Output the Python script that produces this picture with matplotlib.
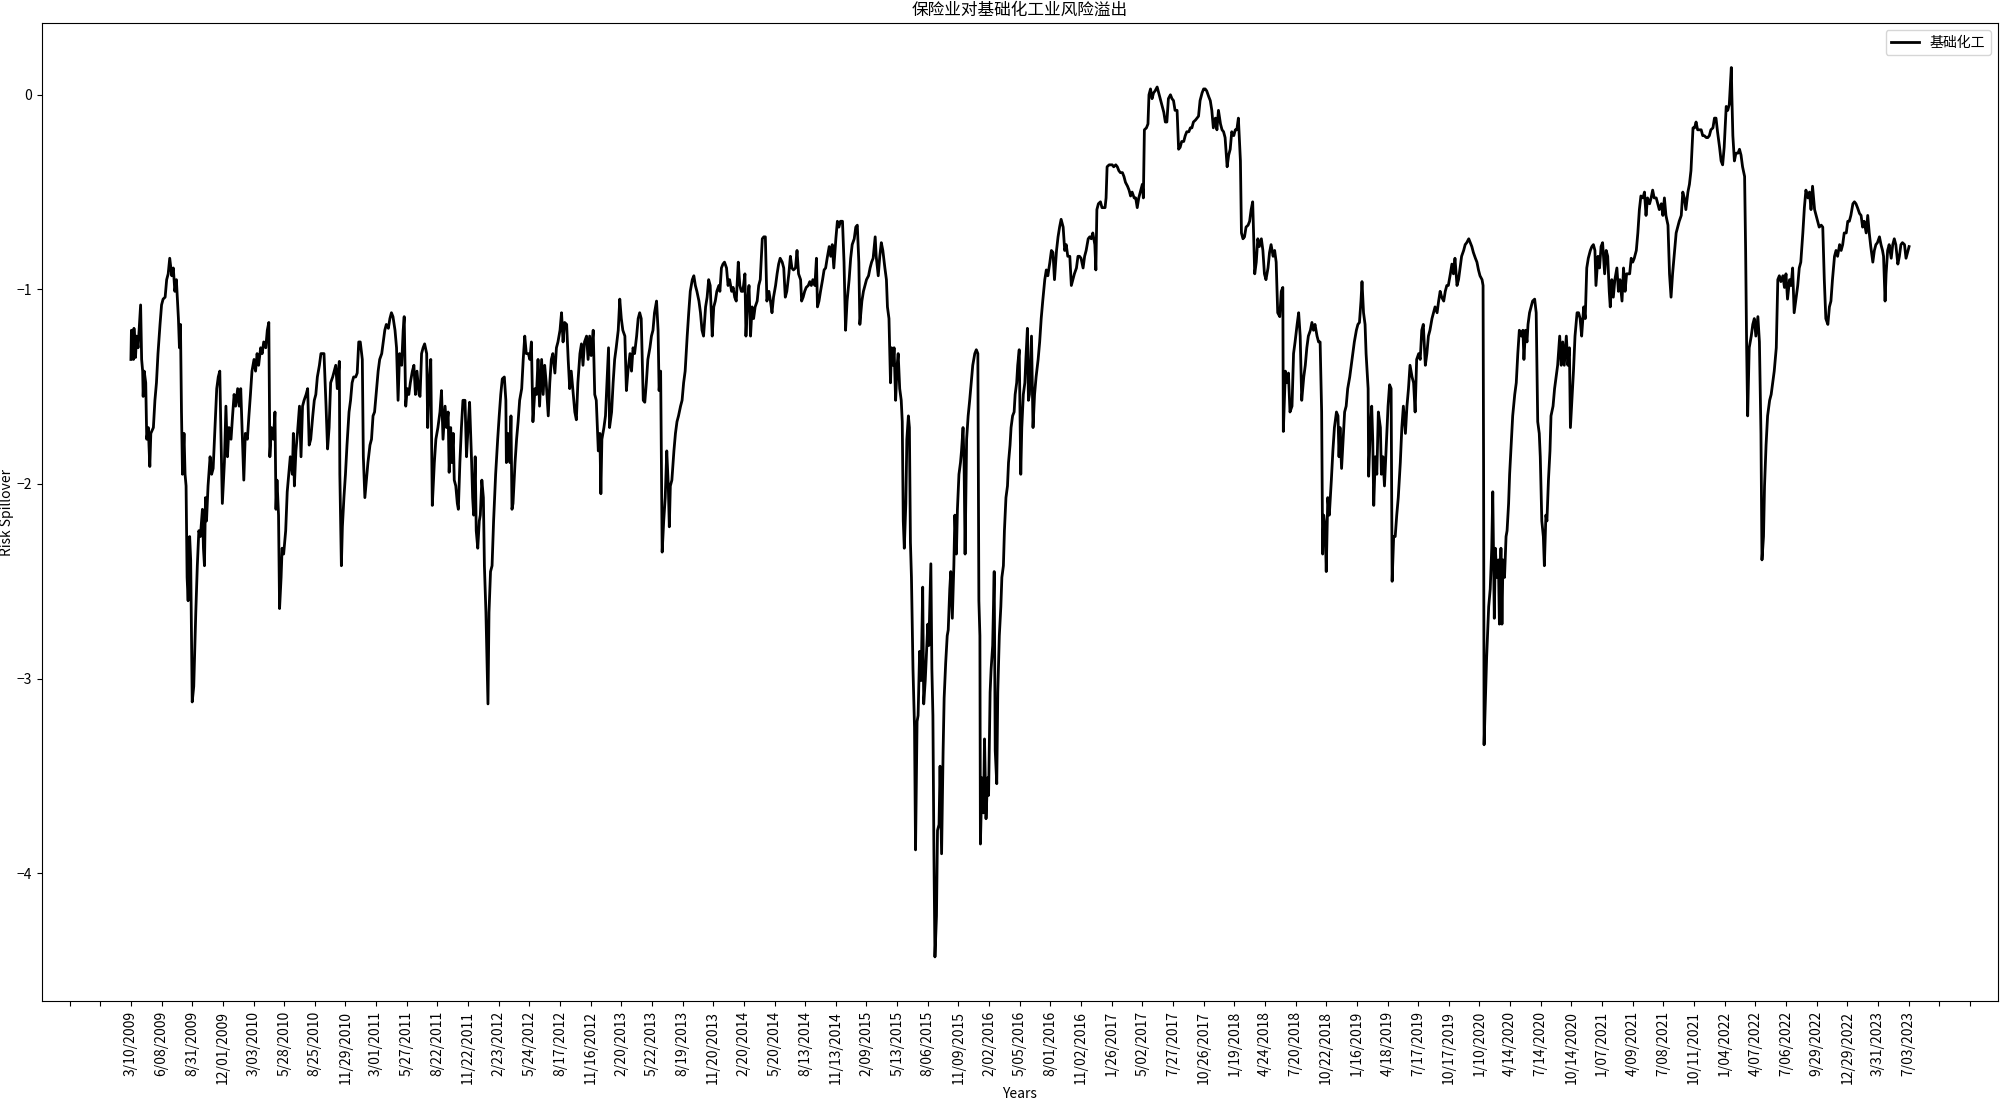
import matplotlib
matplotlib.use('Agg')
import matplotlib.pyplot as plt
from matplotlib.ticker import MultipleLocator, FuncFormatter

# %% Data: risk spillover of insurance on basic chemicals
# (trading-day index, spillover value)

seg_2009_2011 = [
    (0, -1.36), (1, -1.21), (5, -1.36), (6, -1.20), (9, -1.35), (11, -1.24), (14, -1.30), (16, -1.21),
    (19, -1.08), (21, -1.36), (23, -1.42), (24, -1.55), (26, -1.42), (29, -1.48), (31, -1.77), (34, -1.71),
    (37, -1.91), (39, -1.74), (44, -1.71), (47, -1.57), (50, -1.48), (53, -1.33), (57, -1.18), (60, -1.08),
    (63, -1.05), (67, -1.04), (70, -0.95), (73, -0.92), (76, -0.84), (80, -0.93), (83, -0.89), (86, -1.01),
    (89, -0.95), (93, -1.15), (95, -1.30), (97, -1.18), (99, -1.63), (101, -1.95), (104, -1.74), (106, -1.95),
    (108, -2.01), (110, -2.48), (112, -2.60), (115, -2.27), (117, -2.39), (120, -3.12), (123, -3.04), (127, -2.66),
    (130, -2.42), (133, -2.24), (136, -2.27), (140, -2.13), (142, -2.33), (144, -2.42), (146, -2.07), (148, -2.19),
    (151, -2.01), (155, -1.86), (158, -1.95), (161, -1.92), (164, -1.74), (168, -1.51), (171, -1.45), (174, -1.42),
    (176, -1.71), (179, -2.10), (183, -1.89), (186, -1.60), (189, -1.86), (192, -1.71), (196, -1.77), (199, -1.65),
    (202, -1.54), (205, -1.60), (209, -1.51), (212, -1.60), (215, -1.51), (219, -1.83), (221, -1.98), (224, -1.74),
    (228, -1.77), (231, -1.65), (234, -1.54), (237, -1.42), (241, -1.36), (244, -1.42), (247, -1.33), (250, -1.39),
    (254, -1.30), (257, -1.33), (260, -1.27), (264, -1.30), (267, -1.21), (270, -1.17), (272, -1.86), (275, -1.71),
    (279, -1.77), (282, -1.63), (284, -2.13), (286, -1.98), (289, -2.16), (291, -2.64), (294, -2.48), (296, -2.33),
    (299, -2.36), (303, -2.24), (306, -2.04), (309, -1.95), (312, -1.86), (316, -1.95), (318, -1.74), (320, -2.01),
    (323, -1.83), (326, -1.74), (330, -1.60), (333, -1.86), (336, -1.60), (339, -1.57), (343, -1.54), (346, -1.51),
    (349, -1.80), (352, -1.77), (356, -1.65), (359, -1.57), (362, -1.54), (365, -1.45), (369, -1.39), (372, -1.33),
    (375, -1.33), (378, -1.33), (382, -1.60), (385, -1.82), (388, -1.71), (391, -1.48), (395, -1.45), (398, -1.42),
    (401, -1.39), (404, -1.51), (408, -1.37), (409, -1.95), (412, -2.42), (414, -2.22), (417, -2.07), (420, -1.95),
    (423, -1.80), (427, -1.63), (430, -1.57), (433, -1.48), (436, -1.45), (440, -1.45), (443, -1.43), (446, -1.27),
    (449, -1.27), (453, -1.36), (455, -1.86), (458, -2.07), (461, -1.98), (464, -1.89), (468, -1.80), (471, -1.77),
    (474, -1.65), (477, -1.63), (481, -1.51), (484, -1.42), (487, -1.36), (491, -1.33), (494, -1.27), (497, -1.21),
    (500, -1.18), (504, -1.20), (507, -1.15), (510, -1.12), (513, -1.14), (517, -1.21), (520, -1.30), (523, -1.57),
    (526, -1.33), (530, -1.39), (533, -1.21), (535, -1.14), (538, -1.60), (541, -1.51), (544, -1.54), (547, -1.48),
    (551, -1.42), (554, -1.39), (557, -1.54), (560, -1.42), (564, -1.54),
]

seg_2011_2013 = [
    (566, -1.55), (569, -1.33), (572, -1.30), (575, -1.28), (579, -1.33), (581, -1.71), (584, -1.48), (587, -1.36),
    (590, -2.11), (594, -1.89), (597, -1.77), (601, -1.71), (605, -1.63), (608, -1.52), (611, -1.77), (615, -1.60),
    (618, -1.71), (621, -1.63), (623, -1.94), (626, -1.71), (628, -1.89), (631, -1.74), (633, -1.98), (636, -2.01),
    (639, -2.10), (641, -2.13), (644, -1.89), (647, -1.71), (650, -1.57), (654, -1.57), (657, -1.86), (660, -1.71),
    (663, -1.58), (667, -1.89), (669, -2.07), (671, -2.16), (674, -1.86), (676, -2.24), (679, -2.33), (682, -2.19),
    (684, -2.16), (687, -1.98), (690, -2.07), (692, -2.42), (695, -2.66), (699, -3.13), (701, -2.66), (704, -2.45),
    (707, -2.42), (710, -2.19), (714, -1.95), (718, -1.77), (721, -1.65), (724, -1.54), (727, -1.46), (731, -1.45),
    (734, -1.57), (735, -1.89), (738, -1.74), (742, -1.89), (744, -1.65), (746, -2.13), (748, -2.10), (752, -1.89),
    (755, -1.77), (758, -1.68), (761, -1.57), (765, -1.51), (768, -1.36), (771, -1.24), (774, -1.33), (778, -1.33),
    (781, -1.36), (784, -1.27), (787, -1.68), (791, -1.51), (794, -1.54), (797, -1.36), (800, -1.60), (804, -1.36),
    (807, -1.54), (810, -1.39), (813, -1.48), (817, -1.65), (820, -1.48), (823, -1.36), (826, -1.33), (830, -1.43),
    (833, -1.30), (836, -1.27), (840, -1.21), (843, -1.12), (846, -1.27), (849, -1.17), (853, -1.18), (856, -1.36),
    (859, -1.51), (862, -1.42), (866, -1.54), (869, -1.63), (872, -1.67), (875, -1.48), (879, -1.33), (882, -1.28),
    (885, -1.39), (888, -1.27), (892, -1.24), (895, -1.36), (898, -1.24), (901, -1.34), (905, -1.21), (908, -1.54),
    (911, -1.57), (915, -1.83), (918, -1.74), (920, -2.05), (922, -1.77), (926, -1.71), (929, -1.65), (932, -1.48),
    (935, -1.30), (937, -1.71), (941, -1.63), (944, -1.48), (947, -1.36), (950, -1.30), (954, -1.21), (957, -1.05),
    (960, -1.15), (963, -1.21), (967, -1.24), (970, -1.52), (973, -1.42), (977, -1.33), (980, -1.42), (983, -1.30),
    (986, -1.33), (990, -1.24), (993, -1.15), (996, -1.12), (999, -1.15), (1003, -1.57), (1006, -1.58), (1009, -1.48),
    (1012, -1.36), (1016, -1.30), (1019, -1.24), (1022, -1.21), (1025, -1.12), (1029, -1.06), (1032, -1.21),
    (1034, -1.52), (1037, -1.42), (1040, -2.35), (1043, -2.19), (1046, -2.07), (1049, -1.83), (1052, -2.01),
    (1054, -2.22), (1056, -2.01), (1059, -1.98), (1063, -1.83), (1066, -1.74), (1069, -1.68), (1072, -1.65),
    (1076, -1.60), (1079, -1.57), (1082, -1.48), (1085, -1.42), (1089, -1.24), (1092, -1.12), (1095, -1.01),
    (1099, -0.95), (1102, -0.93), (1105, -0.98), (1108, -1.01), (1112, -1.06), (1115, -1.12), (1118, -1.21),
    (1121, -1.24), (1125, -1.09), (1128, -1.04), (1131, -0.95), (1134, -0.98), (1138, -1.24), (1141, -1.09),
    (1144, -1.06), (1147, -1.01), (1151, -0.98),
]

seg_2013_2016 = [
    (1153, -1.01), (1156, -0.89), (1159, -0.87), (1162, -0.86), (1166, -0.89), (1169, -0.98), (1172, -0.95),
    (1176, -1.01), (1179, -0.99), (1182, -1.04), (1185, -1.06), (1189, -0.86), (1192, -0.98), (1195, -1.01),
    (1198, -1.01), (1202, -0.92), (1204, -1.24), (1207, -1.06), (1210, -0.98), (1213, -1.24), (1216, -1.09),
    (1219, -1.15), (1222, -1.09), (1226, -1.06), (1229, -0.98), (1232, -0.95), (1236, -0.74), (1239, -0.73),
    (1242, -0.73), (1245, -1.06), (1249, -1.01), (1252, -1.06), (1255, -1.12), (1258, -1.04), (1262, -0.98),
    (1265, -0.92), (1268, -0.87), (1271, -0.84), (1275, -0.86), (1278, -0.89), (1281, -1.04), (1284, -1.01),
    (1288, -0.92), (1291, -0.83), (1294, -0.89), (1297, -0.90), (1301, -0.89), (1304, -0.80), (1307, -0.92),
    (1311, -0.95), (1313, -1.06), (1316, -1.04), (1319, -1.01), (1322, -0.99), (1326, -0.98), (1329, -0.96),
    (1332, -0.98), (1335, -0.95), (1339, -0.98), (1342, -0.84), (1344, -1.09), (1347, -1.06), (1350, -1.01),
    (1354, -0.95), (1357, -0.90), (1360, -0.89), (1363, -0.84), (1367, -0.78), (1370, -0.83), (1373, -0.77),
    (1376, -0.89), (1380, -0.74), (1383, -0.65), (1386, -0.68), (1389, -0.65), (1393, -0.65), (1396, -0.86),
    (1399, -1.21), (1402, -1.06), (1406, -0.95), (1409, -0.84), (1412, -0.77), (1416, -0.74), (1419, -0.68),
    (1422, -0.67), (1425, -0.86), (1427, -1.18), (1431, -1.06), (1434, -1.01), (1437, -0.98), (1440, -0.95),
    (1444, -0.93), (1447, -0.89), (1450, -0.86), (1453, -0.84), (1457, -0.73), (1459, -0.83), (1463, -0.93),
    (1466, -0.83), (1469, -0.76), (1472, -0.80), (1476, -0.89), (1479, -0.95), (1481, -1.09), (1484, -1.15),
    (1487, -1.48), (1489, -1.30), (1492, -1.39), (1494, -1.30), (1497, -1.57), (1500, -1.39), (1502, -1.33),
    (1505, -1.51), (1508, -1.57), (1510, -1.68), (1512, -2.19), (1514, -2.33), (1517, -2.10), (1519, -1.77),
    (1522, -1.65), (1524, -1.71), (1526, -2.30), (1528, -2.48), (1531, -2.95), (1534, -3.25), (1536, -3.88),
    (1539, -3.22), (1541, -3.19), (1544, -2.86), (1547, -3.01), (1550, -2.53), (1552, -3.13), (1555, -3.01),
    (1557, -2.89), (1560, -2.72), (1562, -2.83), (1566, -2.41), (1568, -2.95), (1570, -3.19), (1572, -3.90),
    (1574, -4.43), (1577, -4.22), (1579, -3.78), (1582, -3.75), (1584, -3.45), (1587, -3.90), (1590, -3.37),
    (1592, -3.10), (1595, -2.92), (1598, -2.78), (1600, -2.75), (1603, -2.54), (1605, -2.45), (1608, -2.69),
    (1611, -2.42), (1613, -2.16), (1616, -2.36), (1618, -2.13), (1621, -1.95), (1624, -1.89), (1626, -1.83),
    (1629, -1.71), (1631, -1.89), (1633, -2.36), (1636, -1.77), (1639, -1.65), (1642, -1.57), (1645, -1.48),
    (1648, -1.39), (1652, -1.33), (1655, -1.31), (1658, -1.33), (1660, -2.60), (1662, -2.78), (1663, -3.85),
    (1666, -3.51), (1669, -3.69), (1671, -3.31), (1674, -3.72), (1677, -3.51), (1679, -3.60), (1682, -3.07),
    (1684, -2.95), (1687, -2.83), (1690, -2.45), (1692, -3.37), (1695, -3.54), (1697, -3.07), (1700, -2.78),
    (1703, -2.63), (1705, -2.48), (1708, -2.42), (1710, -2.24), (1713, -2.07), (1716, -2.01), (1718, -1.89),
    (1721, -1.80), (1723, -1.71), (1726, -1.65), (1729, -1.63), (1731, -1.54), (1734, -1.48), (1736, -1.39),
    (1739, -1.31), (1742, -1.95), (1744, -1.71), (1747, -1.54), (1750, -1.48), (1752, -1.36), (1755, -1.20),
    (1757, -1.57),
]

seg_2016_2018 = [
    (1759, -1.54), (1763, -1.24), (1766, -1.71), (1769, -1.54), (1772, -1.45), (1776, -1.36), (1779, -1.27),
    (1782, -1.15), (1785, -1.06), (1789, -0.95), (1792, -0.90), (1795, -0.93), (1799, -0.86), (1802, -0.80),
    (1805, -0.81), (1808, -0.95), (1812, -0.80), (1815, -0.73), (1818, -0.68), (1821, -0.64), (1825, -0.68),
    (1828, -0.80), (1831, -0.77), (1834, -0.83), (1838, -0.83), (1841, -0.98), (1844, -0.95), (1847, -0.92),
    (1851, -0.89), (1854, -0.83), (1857, -0.83), (1860, -0.84), (1864, -0.89), (1867, -0.83), (1870, -0.80),
    (1874, -0.74), (1877, -0.73), (1880, -0.74), (1883, -0.71), (1887, -0.77), (1889, -0.90), (1891, -0.59),
    (1894, -0.56), (1898, -0.55), (1901, -0.58), (1904, -0.58), (1907, -0.58), (1909, -0.53), (1911, -0.37),
    (1915, -0.36), (1918, -0.36), (1921, -0.36), (1924, -0.37), (1928, -0.36), (1931, -0.37), (1934, -0.39),
    (1937, -0.40), (1941, -0.40), (1944, -0.42), (1947, -0.45), (1951, -0.47), (1954, -0.49), (1957, -0.52),
    (1960, -0.50), (1964, -0.53), (1967, -0.53), (1970, -0.58), (1973, -0.53), (1977, -0.49), (1980, -0.46),
    (1982, -0.53), (1984, -0.18), (1988, -0.17), (1991, -0.15), (1993, 0.00), (1996, 0.03), (1999, -0.02),
    (2002, 0.01), (2005, 0.02), (2009, 0.04), (2012, 0.01), (2015, -0.02), (2018, -0.05), (2022, -0.09),
    (2025, -0.14), (2028, -0.14), (2031, -0.02), (2035, 0.00), (2038, -0.02), (2041, -0.03), (2044, -0.08),
    (2048, -0.08), (2051, -0.28), (2054, -0.27), (2057, -0.24), (2061, -0.24), (2064, -0.21), (2067, -0.19),
    (2071, -0.19), (2074, -0.17), (2077, -0.17), (2080, -0.14), (2084, -0.13), (2087, -0.12), (2090, -0.11),
    (2093, -0.03), (2097, 0.01), (2100, 0.03), (2103, 0.03), (2106, 0.02), (2110, -0.01), (2113, -0.03),
    (2116, -0.08), (2119, -0.17), (2123, -0.12), (2126, -0.18), (2129, -0.08), (2133, -0.15), (2136, -0.18),
    (2139, -0.19), (2142, -0.22), (2146, -0.37), (2149, -0.31), (2152, -0.28), (2155, -0.19), (2159, -0.21),
    (2162, -0.18), (2165, -0.18), (2168, -0.12), (2172, -0.34), (2174, -0.71), (2177, -0.74), (2180, -0.73),
    (2183, -0.68), (2187, -0.67), (2190, -0.65), (2193, -0.59), (2196, -0.55), (2200, -0.92), (2203, -0.86),
    (2206, -0.74), (2209, -0.78), (2213, -0.74), (2216, -0.80), (2219, -0.92), (2222, -0.95), (2226, -0.89),
    (2229, -0.81), (2232, -0.77), (2236, -0.83), (2239, -0.80), (2242, -0.86), (2245, -1.12), (2249, -1.14),
    (2252, -1.01), (2255, -0.99), (2256, -1.73), (2260, -1.42), (2263, -1.48), (2266, -1.43), (2269, -1.63),
    (2273, -1.60), (2276, -1.33), (2279, -1.27), (2283, -1.18), (2286, -1.12), (2289, -1.24), (2292, -1.57),
    (2296, -1.45), (2299, -1.39), (2302, -1.30), (2305, -1.24), (2309, -1.21), (2312, -1.17), (2315, -1.21),
    (2318, -1.18), (2322, -1.24), (2325, -1.27), (2328, -1.27), (2331, -1.63), (2333, -2.36), (2335, -2.16),
    (2338, -2.22), (2340, -2.45), (2343, -2.07),
]

seg_2018_2021 = [
    (2346, -2.16), (2350, -1.98), (2353, -1.83), (2356, -1.71), (2360, -1.63), (2363, -1.65), (2365, -1.86),
    (2367, -1.71), (2370, -1.92), (2373, -1.77), (2376, -1.63), (2379, -1.60), (2382, -1.51), (2386, -1.45),
    (2389, -1.39), (2392, -1.33), (2395, -1.27), (2399, -1.21), (2402, -1.18), (2405, -1.17), (2408, -1.06),
    (2410, -0.96), (2413, -1.12), (2416, -1.18), (2418, -1.33), (2422, -1.51), (2423, -1.96), (2426, -1.74),
    (2429, -1.60), (2431, -1.77), (2433, -2.11), (2436, -1.86), (2439, -1.95), (2442, -1.63), (2446, -1.71),
    (2448, -1.95), (2451, -1.86), (2454, -2.01), (2457, -1.83), (2461, -1.60), (2464, -1.49), (2467, -1.51),
    (2469, -2.50), (2472, -2.27), (2475, -2.27), (2478, -2.16), (2481, -2.07), (2485, -1.89), (2488, -1.71),
    (2491, -1.60), (2495, -1.74), (2498, -1.60), (2501, -1.51), (2504, -1.39), (2508, -1.45), (2511, -1.48),
    (2514, -1.63), (2517, -1.36), (2521, -1.33), (2524, -1.36), (2527, -1.21), (2530, -1.18), (2534, -1.39),
    (2537, -1.33), (2540, -1.24), (2543, -1.21), (2547, -1.15), (2550, -1.12), (2553, -1.09), (2557, -1.12),
    (2560, -1.06), (2563, -1.01), (2566, -1.04), (2570, -1.06), (2573, -1.01), (2576, -0.98), (2579, -0.98),
    (2583, -0.92), (2586, -0.87), (2589, -0.92), (2592, -0.84), (2596, -0.98), (2599, -0.95), (2602, -0.89),
    (2605, -0.83), (2609, -0.80), (2612, -0.77), (2615, -0.76), (2619, -0.74), (2622, -0.76), (2625, -0.78),
    (2628, -0.81), (2632, -0.84), (2635, -0.86), (2638, -0.90), (2641, -0.93), (2645, -0.95), (2647, -0.98),
    (2648, -1.89), (2649, -3.34), (2651, -3.16), (2654, -2.89), (2658, -2.63), (2661, -2.54), (2664, -2.33),
    (2666, -2.04), (2669, -2.69), (2671, -2.33), (2674, -2.48), (2677, -2.39), (2679, -2.72), (2682, -2.33),
    (2684, -2.72), (2686, -2.39), (2689, -2.48), (2692, -2.27), (2694, -2.24), (2697, -2.10), (2699, -1.95),
    (2702, -1.80), (2705, -1.65), (2709, -1.54), (2712, -1.48), (2715, -1.33), (2718, -1.21), (2722, -1.24),
    (2725, -1.21), (2727, -1.36), (2730, -1.21), (2733, -1.27), (2735, -1.18), (2738, -1.12), (2741, -1.09),
    (2744, -1.06), (2748, -1.05), (2751, -1.12), (2754, -1.68), (2757, -1.74), (2759, -1.86), (2762, -2.19),
    (2765, -2.27), (2767, -2.42), (2770, -2.16), (2772, -2.19), (2775, -1.98), (2778, -1.83), (2780, -1.65),
    (2784, -1.60), (2787, -1.51), (2790, -1.45), (2793, -1.39), (2797, -1.24), (2800, -1.39), (2803, -1.27),
    (2806, -1.39), (2810, -1.24), (2813, -1.39), (2816, -1.30), (2818, -1.71), (2821, -1.57), (2824, -1.42),
    (2827, -1.24), (2831, -1.12), (2834, -1.12), (2837, -1.15), (2840, -1.24), (2844, -1.09), (2847, -1.15),
    (2850, -0.89), (2853, -0.84), (2857, -0.80), (2860, -0.78), (2863, -0.77), (2866, -0.80), (2868, -0.98),
    (2872, -0.83), (2875, -0.89), (2878, -0.78), (2881, -0.76), (2885, -0.92), (2888, -0.80), (2891, -0.83),
    (2894, -1.01), (2896, -1.09), (2899, -0.95), (2902, -1.04), (2905, -0.95), (2909, -0.89), (2912, -1.01),
    (2915, -0.95), (2919, -1.06), (2922, -0.89), (2925, -1.01), (2928, -0.92),
]

seg_2021_2023 = [
    (2934, -0.92), (2937, -0.84), (2940, -0.86), (2943, -0.84), (2947, -0.80), (2950, -0.71), (2953, -0.59),
    (2956, -0.52), (2960, -0.53), (2963, -0.50), (2966, -0.62), (2969, -0.53), (2973, -0.56), (2976, -0.53),
    (2979, -0.49), (2982, -0.53), (2986, -0.53), (2989, -0.56), (2992, -0.59), (2996, -0.56), (2999, -0.62),
    (3002, -0.53), (3005, -0.62), (3009, -0.67), (3012, -0.92), (3015, -1.04), (3018, -0.92), (3022, -0.80),
    (3025, -0.71), (3028, -0.68), (3031, -0.65), (3035, -0.62), (3038, -0.50), (3041, -0.53), (3044, -0.59),
    (3048, -0.50), (3051, -0.46), (3054, -0.39), (3058, -0.17), (3061, -0.17), (3064, -0.14), (3067, -0.18),
    (3071, -0.18), (3074, -0.18), (3077, -0.21), (3080, -0.21), (3084, -0.22), (3087, -0.22), (3090, -0.21),
    (3093, -0.18), (3097, -0.17), (3100, -0.12), (3103, -0.12), (3106, -0.19), (3110, -0.27), (3113, -0.34),
    (3116, -0.36), (3119, -0.27), (3123, -0.06), (3126, -0.08), (3129, -0.05), (3133, 0.14), (3134, 0.00),
    (3136, -0.21), (3139, -0.34), (3142, -0.30), (3146, -0.30), (3149, -0.28), (3152, -0.31), (3155, -0.37),
    (3159, -0.42), (3161, -0.80), (3163, -1.30), (3165, -1.65), (3168, -1.30), (3172, -1.24), (3175, -1.18),
    (3178, -1.15), (3181, -1.24), (3185, -1.14), (3188, -1.27), (3191, -1.74), (3193, -2.39), (3196, -2.27),
    (3198, -2.01), (3201, -1.80), (3204, -1.65), (3208, -1.57), (3211, -1.54), (3214, -1.48), (3217, -1.42),
    (3221, -1.30), (3224, -0.95), (3227, -0.93), (3230, -0.96), (3234, -0.93), (3237, -0.99), (3240, -0.92),
    (3243, -1.05), (3247, -0.95), (3250, -0.98), (3253, -0.89), (3256, -1.12), (3260, -1.04), (3263, -0.98),
    (3266, -0.89), (3269, -0.86), (3273, -0.71), (3276, -0.58), (3279, -0.49), (3283, -0.53), (3286, -0.50),
    (3289, -0.59), (3292, -0.47), (3296, -0.59), (3299, -0.62), (3302, -0.65), (3305, -0.68), (3309, -0.67),
    (3312, -0.68), (3315, -0.95), (3318, -1.15), (3322, -1.18), (3325, -1.09), (3328, -1.06), (3331, -0.95),
    (3335, -0.83), (3338, -0.80), (3341, -0.83), (3345, -0.77), (3348, -0.80), (3351, -0.77), (3354, -0.71),
    (3358, -0.71), (3361, -0.65), (3364, -0.65), (3367, -0.62), (3371, -0.56), (3374, -0.55), (3377, -0.56),
    (3380, -0.58), (3384, -0.61), (3387, -0.62), (3390, -0.68), (3393, -0.65), (3397, -0.71), (3400, -0.62),
    (3403, -0.71), (3406, -0.78), (3410, -0.86), (3413, -0.80), (3416, -0.77), (3419, -0.76), (3423, -0.73),
    (3426, -0.77), (3429, -0.80), (3431, -0.83), (3434, -1.06), (3436, -0.92), (3439, -0.80), (3442, -0.77),
    (3446, -0.84), (3449, -0.77), (3452, -0.74), (3455, -0.77), (3459, -0.87), (3462, -0.83), (3465, -0.77),
    (3468, -0.76), (3472, -0.77), (3475, -0.84), (3478, -0.81), (3481, -0.78),
]

# date labels, one every 60 trading days starting at day 0
tick_dates = [
    '3/10/2009', '6/08/2009', '8/31/2009', '12/01/2009', '3/03/2010', '5/28/2010', '8/25/2010', '11/29/2010',
    '3/01/2011', '5/27/2011', '8/22/2011', '11/22/2011', '2/23/2012', '5/24/2012', '8/17/2012', '11/16/2012',
    '2/20/2013', '5/22/2013', '8/19/2013', '11/20/2013', '2/20/2014', '5/20/2014', '8/13/2014', '11/13/2014',
    '2/09/2015', '5/13/2015', '8/06/2015', '11/09/2015', '2/02/2016', '5/05/2016', '8/01/2016', '11/02/2016',
    '1/26/2017', '5/02/2017', '7/27/2017', '10/26/2017', '1/19/2018', '4/24/2018', '7/20/2018', '10/22/2018',
    '1/16/2019', '4/18/2019', '7/17/2019', '10/17/2019', '1/10/2020', '4/14/2020', '7/14/2020', '10/14/2020',
    '1/07/2021', '4/09/2021', '7/08/2021', '10/11/2021', '1/04/2022', '4/07/2022', '7/06/2022', '9/29/2022',
    '12/29/2022', '3/31/2023', '7/03/2023',
]
tick_step = 60

# %% Plot

plt.rcParams['font.family'] = ['Noto Sans CJK SC', 'DejaVu Sans']

series = seg_2009_2011 + seg_2011_2013 + seg_2013_2016 + seg_2016_2018 + seg_2018_2021 + seg_2021_2023
days = [d for d, v in series]
values = [v for d, v in series]


def date_label(x, pos):
    i = int(round(x / tick_step))
    if 0 <= i < len(tick_dates):
        return tick_dates[i]
    return ''


fig, ax = plt.subplots(figsize=(20, 10.98), dpi=100)
fig.subplots_adjust(left=0.021, right=0.999, bottom=0.088, top=0.979)

ax.plot(days, values, color='black', linewidth=2, label='基础化工')

ax.xaxis.set_major_locator(MultipleLocator(tick_step))
ax.xaxis.set_major_formatter(FuncFormatter(date_label))
ax.tick_params(axis='x', labelrotation=90, labelsize=10)
ax.tick_params(axis='y', labelsize=10)

ax.set_title('保险业对基础化工业风险溢出', fontsize=12)
ax.set_xlabel('Years', fontsize=10, labelpad=2)
ax.set_ylabel('Risk Spillover', fontsize=10)
ax.yaxis.set_label_coords(-0.0145, 0.5)
ax.legend(loc='upper right', fontsize=10)

plt.savefig('out.png')
